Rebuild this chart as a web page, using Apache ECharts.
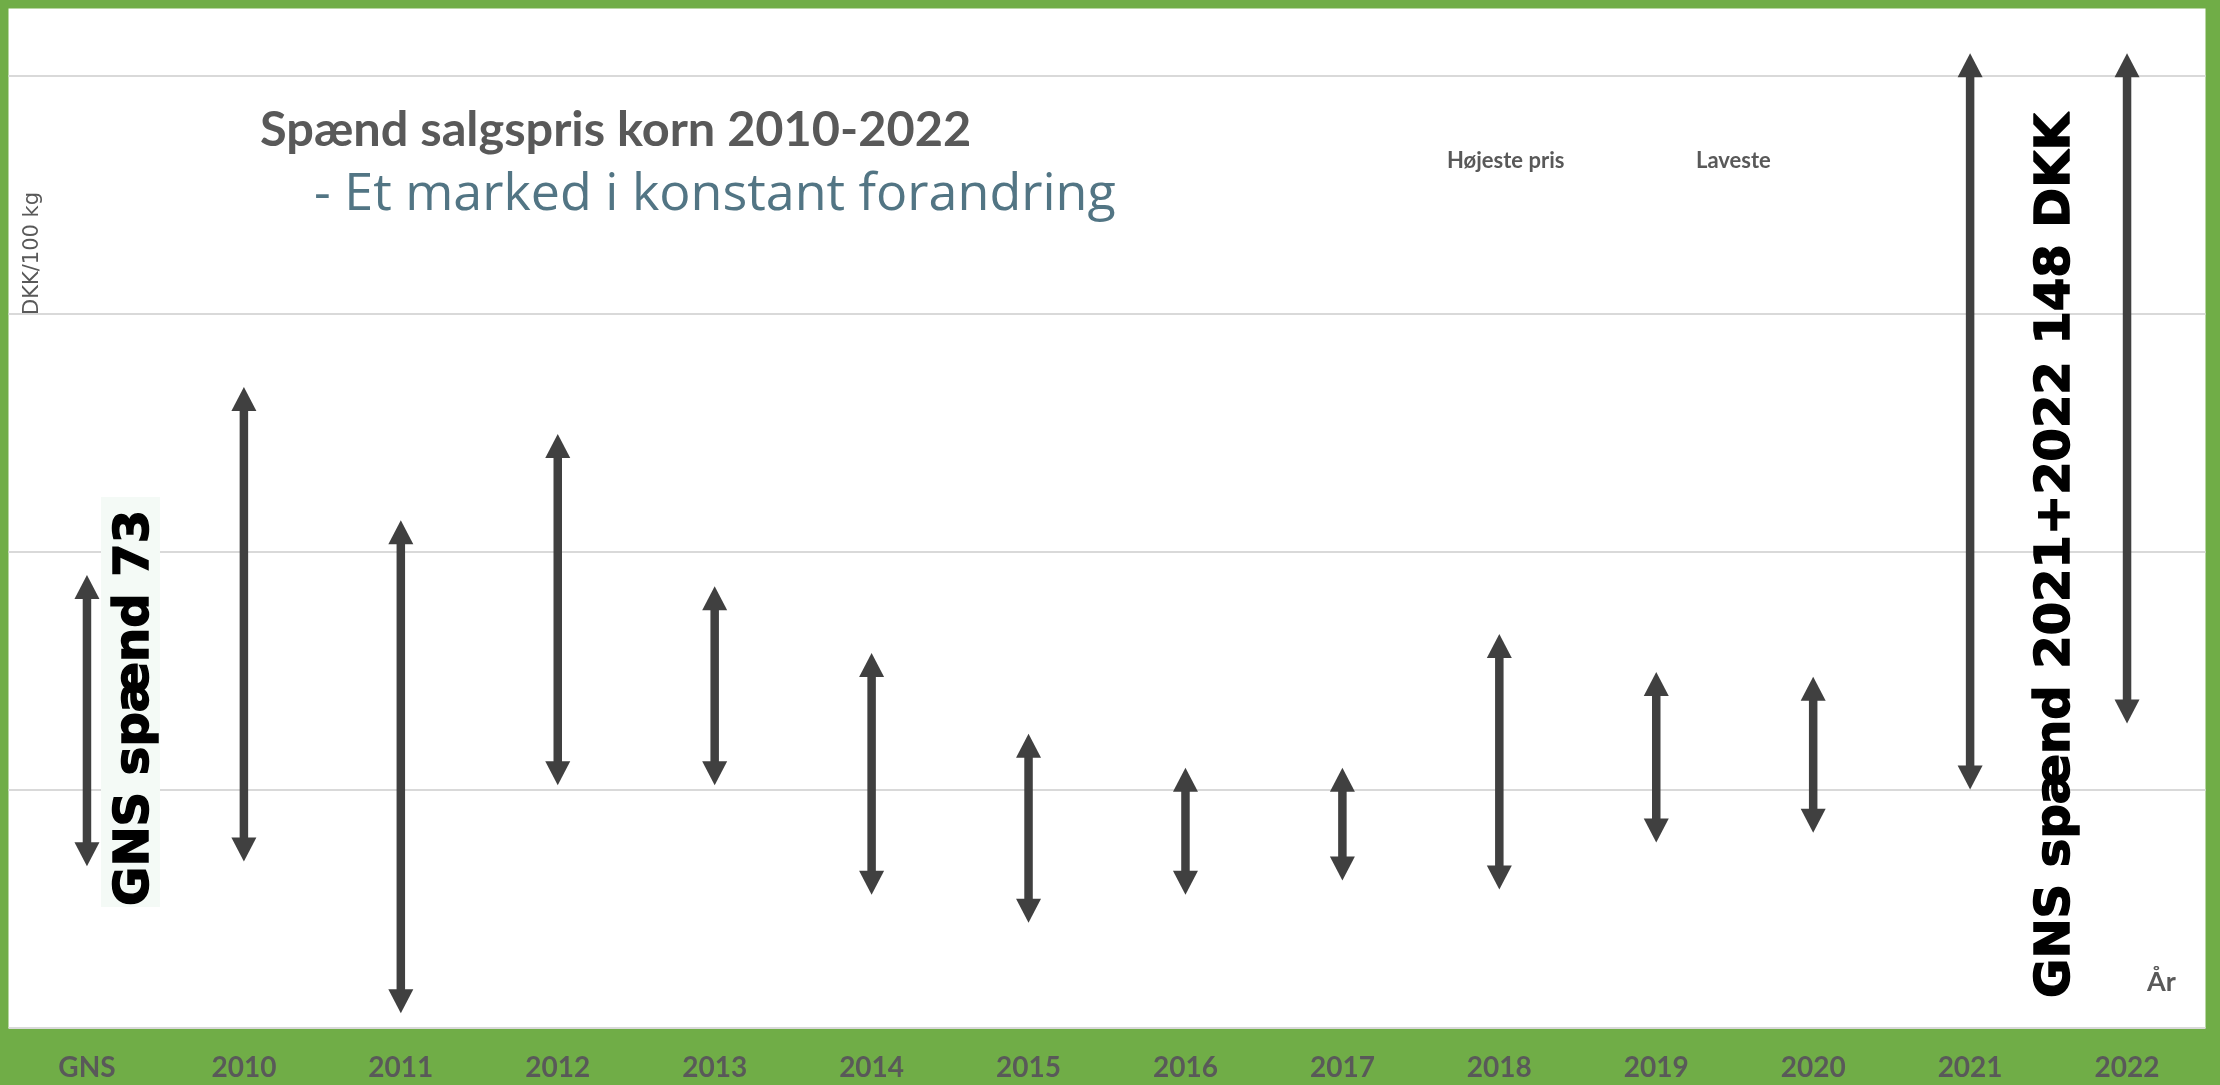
<!DOCTYPE html>
<html><head><meta charset="utf-8">
<script src="https://cdn.jsdelivr.net/npm/echarts@6/dist/echarts.min.js"></script>
<style>html,body{margin:0;padding:0;background:#70AD47}#c{width:2220px;height:1085px}</style>
</head><body><div id="c"></div>
<script>
const categories = ['GNS','2010','2011','2012','2013','2014','2015','2016','2017','2018','2019','2020','2021','2022'];
// DKK/100 kg (high and low price per year)
const highPrices = [195.2, 234.7, 206.7, 224.8, 192.8, 178.8, 161.8, 154.7, 154.7, 182.8, 174.8, 173.8, 304.8, 304.8];
const lowPrices  = [134.0, 135.0, 103.1, 151.0, 151.0, 128.0, 122.1, 128.0, 131.0, 129.1, 139.0, 141.0, 150.1, 164.0];
const yMin = 100, yInterval = 50;

const chart = echarts.init(document.getElementById('c'));
const arrowColor = '#404040';
chart.setOption({
  backgroundColor: '#70AD47',
  animation: false,
  grid: { left: 8.5, right: 14.5, top: 8.5, bottom: 57, show: true, backgroundColor: '#ffffff', borderWidth: 0 },
  xAxis: {
    type: 'category', data: categories,
    axisLine: { show: false }, axisTick: { show: false },
    axisLabel: { color: '#595959', fontFamily: 'Lato', fontWeight: 'bold', fontSize: 28, margin: 26, interval: 0 }
  },
  yAxis: {
    type: 'value', min: yMin, max: 314.2, interval: yInterval,
    axisLabel: { show: false }, axisLine: { show: false }, axisTick: { show: false },
    splitLine: { show: true, showMaxLine: false, lineStyle: { color: '#D9D9D9', width: 2 } }
  },
  series: [{
    type: 'custom',
    clip: false,
    data: categories.map((c, i) => [i, highPrices[i], lowPrices[i]]),
    encode: { x: 0, y: [1, 2] },
    renderItem: function (params, api) {
      const top = api.coord([api.value(0), api.value(1)]);
      const bot = api.coord([api.value(0), api.value(2)]);
      const cx = top[0], yt = top[1], yb = bot[1];
      const hl = 24, hw = 12.5;
      return { type: 'group', children: [
        { type: 'line', shape: { x1: cx, y1: yt + hl - 2, x2: cx, y2: yb - hl + 2 }, style: { stroke: arrowColor, lineWidth: 8.5 } },
        { type: 'polygon', shape: { points: [[cx, yt], [cx - hw, yt + hl], [cx + hw, yt + hl]] }, style: { fill: arrowColor } },
        { type: 'polygon', shape: { points: [[cx, yb], [cx - hw, yb - hl], [cx + hw, yb - hl]] }, style: { fill: arrowColor } }
      ]};
    }
  }],
  graphic: [
    { type: 'rect', shape: { x: 101, y: 497, width: 59, height: 410 }, style: { fill: '#F4FAF6' }, z: 1 },
    { type: 'text', x: 260, y: 130, style: { text: 'Spænd salgspris korn 2010-2022', fill: '#595959', font: 'bold 48.7px Lato', align: 'left', verticalAlign: 'middle' }, z: 5 },
    { type: 'text', x: 314, y: 195, style: { text: '- Et marked i konstant forandring', fill: '#527584', font: '52px "Open Sans"', align: 'left', verticalAlign: 'middle' }, z: 5 },
    { type: 'text', x: 33, y: 315, rotation: Math.PI / 2, style: { text: 'DKK/100 kg', fill: '#595959', font: '21px "DejaVu Sans"', align: 'left', verticalAlign: 'middle' }, z: 5 },
    { type: 'text', x: 1447, y: 161, style: { text: 'Højeste pris', fill: '#595959', font: 'bold 22px Lato', align: 'left', verticalAlign: 'middle' }, z: 5 },
    { type: 'text', x: 1696, y: 161, style: { text: 'Laveste', fill: '#595959', font: 'bold 22px Lato', align: 'left', verticalAlign: 'middle' }, z: 5 },
    { type: 'text', x: 2147, y: 982, style: { text: 'År', fill: '#595959', font: 'bold 27px Lato', align: 'left', verticalAlign: 'middle' }, z: 5 },
    { type: 'text', x: 136, y: 906, rotation: Math.PI / 2, style: { text: 'GNS spænd 73', fill: '#000000', stroke: '#000000', lineWidth: 1.5, font: 'bold 48px "DejaVu Sans"', align: 'left', verticalAlign: 'middle' }, z: 5 },
    { type: 'text', x: 2057, y: 998, rotation: Math.PI / 2, style: { text: 'GNS spænd 2021+2022 148 DKK', fill: '#000000', stroke: '#000000', lineWidth: 1.5, font: 'bold 48px "DejaVu Sans"', align: 'left', verticalAlign: 'middle' }, z: 5 }
  ]
});
</script></body></html>
